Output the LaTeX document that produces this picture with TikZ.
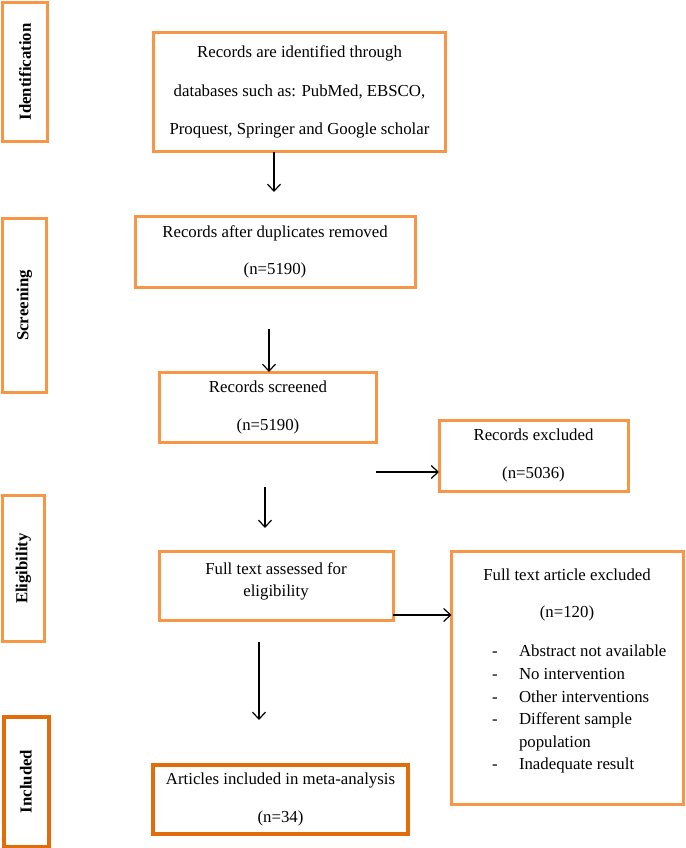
\documentclass[tikz,border=0pt]{standalone}
\usepackage{fontspec}
\setmainfont{Liberation Serif}
\usetikzlibrary{arrows.meta}
\definecolor{lor}{HTML}{F79646}
\definecolor{dor}{HTML}{E36C0A}
\newcommand\myfs{\fontsize{16.8}{22}\selectfont}
\tikzset{
  obox/.style={draw=lor, line width=3pt, inner sep=0pt, outer sep=0pt, align=center, font=\myfs},
  dbox/.style={draw=dor, line width=4pt, inner sep=0pt, outer sep=0pt, align=center, font=\myfs},
  stage/.style={rotate=90, font=\myfs\bfseries, inner sep=0pt, outer sep=0pt, align=center},
  arr/.style={-{Straight Barb[length=7pt,width=13pt,line width=1.2pt]}, line width=1.2pt, black},
  plain/.style={inner sep=0pt, outer sep=0pt, font=\myfs, align=center}
}
\begin{document}
\begin{tikzpicture}[x=1pt,y=-1pt]
\useasboundingbox (0,0) rectangle (685,848);
% stage labels
\node[stage, draw=lor, line width=3pt, minimum width=138, minimum height=45] (sid) at (25,72) {Identification};
\node[stage, draw=lor, line width=3pt, minimum width=174, minimum height=44] (ssc) at (24.5,305.5) {Screening};
\node[stage, draw=lor, line width=3pt, minimum width=146, minimum height=42] (sel) at (23.5,568.5) {Eligibility};
\node[stage, draw=dor, line width=4pt, minimum width=130, minimum height=45] (sin) at (26,781.5) {Included};
% main boxes
\node[obox, minimum width=292, minimum height=119] (b1) at (299.5,92)
  {Records are identified through\\[16.5pt]databases such as: PubMed, EBSCO,\\[16.5pt]Proquest, Springer and Google scholar};
\node[obox, minimum width=280, minimum height=71] (b2) at (275,252)
  {Records after duplicates removed\\[15pt](n=5190)};
\node[obox, minimum width=217, minimum height=70] (b3) at (268,407)
  {Records screened\\[16pt](n=5190)};
\node[obox, minimum width=189, minimum height=71] (ex) at (533.5,455.5)
  {Records excluded\\[16pt](n=5036)};
\node[obox, minimum width=234, minimum height=69] (b4) at (276,585.5) {};
\node[plain] (b4t) at (276,581) {Full text assessed for\\eligibility};
\node[obox, minimum width=232, minimum height=253, anchor=north west] (b5) at (451.5,551) {};
\node[plain] (b5t) at (567,575) {Full text article excluded};
\node[plain] (b5n) at (567,613) {(n=120)};
\node[plain, anchor=north west] (b5l) at (492,641)
  {\fontsize{16.8}{22.6}\selectfont\begin{tabular}{@{}p{27pt}@{}l@{}}
  - & Abstract not available\\
  - & No intervention\\
  - & Other interventions\\
  - & Different sample\\
    & population\\
  - & Inadequate result
  \end{tabular}};
\node[dbox, minimum width=255, minimum height=69] (b6) at (280.5,799.5)
  {Articles included in meta-analysis\\[16pt](n=34)};
% free arrow ends
\coordinate (a1e) at (274,192);
\coordinate (a2s) at (269,329);
\coordinate (a3s) at (376,472);
\coordinate (a4s) at (265,487);
\coordinate (a4e) at (265,528);
\coordinate (a5s) at (259,642);
\coordinate (a5e) at (259,720);
% arrows
\draw[arr] (b1.south -| a1e) -- (a1e);
\draw[arr] (a2s) -- (a2s |- b3.north);
\draw[arr] (a3s) -- (ex.west |- a3s);
\draw[arr] (a4s) -- (a4e);
\draw[arr] (b4.east |- 0,615) -- (b5.west |- 0,615);
\draw[arr] (a5s) -- (a5e);
\end{tikzpicture}
\end{document}
